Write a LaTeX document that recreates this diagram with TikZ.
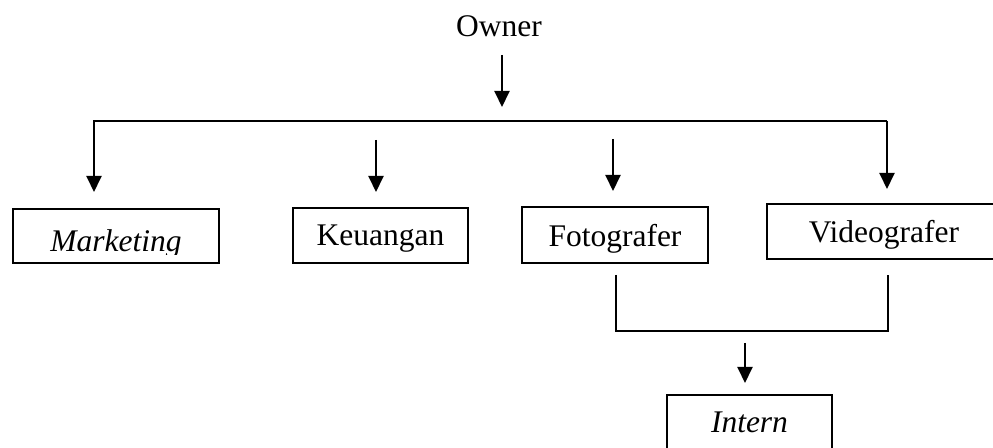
\documentclass[tikz,border=0pt]{standalone}
\usepackage{fontspec}
\setmainfont{Liberation Serif}
\usetikzlibrary{arrows.meta}
\tikzset{
  unit/.style={draw, line width=1pt, inner sep=0pt, text depth=0pt, font=\fontsize{15.75}{19}\selectfont},
  unittext/.style={inner sep=0pt, font=\fontsize{15.75}{19}\selectfont},
  link/.style={line width=1pt},
  down/.style={link, -{Triangle[length=8pt,width=7.5pt]}}
}
\newcommand{\unitbox}[6]{\node[unit, minimum width=#4*0.5pt, minimum height=#5*0.5pt] (#1) at ( #2 , #3 ) {#6};}

\begin{document}
\begin{tikzpicture}[x=0.5pt,y=-0.5pt]
    \clip (0,0) rectangle (993,448);
    % top
    \node[unittext, anchor=base] (owner) at (499,37) {Owner};
    % row of units
    \unitbox{mkt}{116}{236}{206}{54}{}
    \unitbox{keu}{380.5}{235.5}{175}{55}{Keuangan}
    \unitbox{foto}{615}{235}{186}{56}{Fotografer}
    \unitbox{video}{884}{231.5}{234}{55}{Videografer}
    % bottom
    \unitbox{intern}{749.5}{422.5}{165}{55}{\textit{Intern}}
    % marketing label, cut off at the bottom
    \begin{scope}
      \clip (13,209) rectangle (219,255);
      \node[unittext, anchor=base] (mkttext) at (116,252) {\textit{Marketing}};
    \end{scope}

    % end points
    \coordinate (own-a) at (502,55);
    \coordinate (own-b) at (502,107);
    \coordinate (bar-l) at (94,121);
    \coordinate (bar-r) at (887,121);
    \coordinate (mkt-b) at (94,192);
    \coordinate (video-b) at (887,189);
    \coordinate (keu-a) at (376,140);
    \coordinate (keu-b) at (376,192);
    \coordinate (foto-a) at (613,139);
    \coordinate (foto-b) at (613,191);
    \coordinate (join-l) at (616,275);
    \coordinate (join-r) at (888,275);
    \coordinate (int-a) at (745,343);
    \coordinate (int-b) at (745,383);

    % owner to the units
    \draw[down] (own-a) -- (own-b);
    \draw[down] (bar-r) -- (bar-l) -- (mkt-b);
    \draw[down] (bar-r) -- (video-b);
    \draw[down] (keu-a) -- (keu-b);
    \draw[down] (foto-a) -- (foto-b);
    % fotografer and videografer to intern
    \draw[link] (join-l) |- (join-r |- 0,331) -- (join-r);
    \draw[down] (int-a) -- (int-b);
\end{tikzpicture}
\end{document}
